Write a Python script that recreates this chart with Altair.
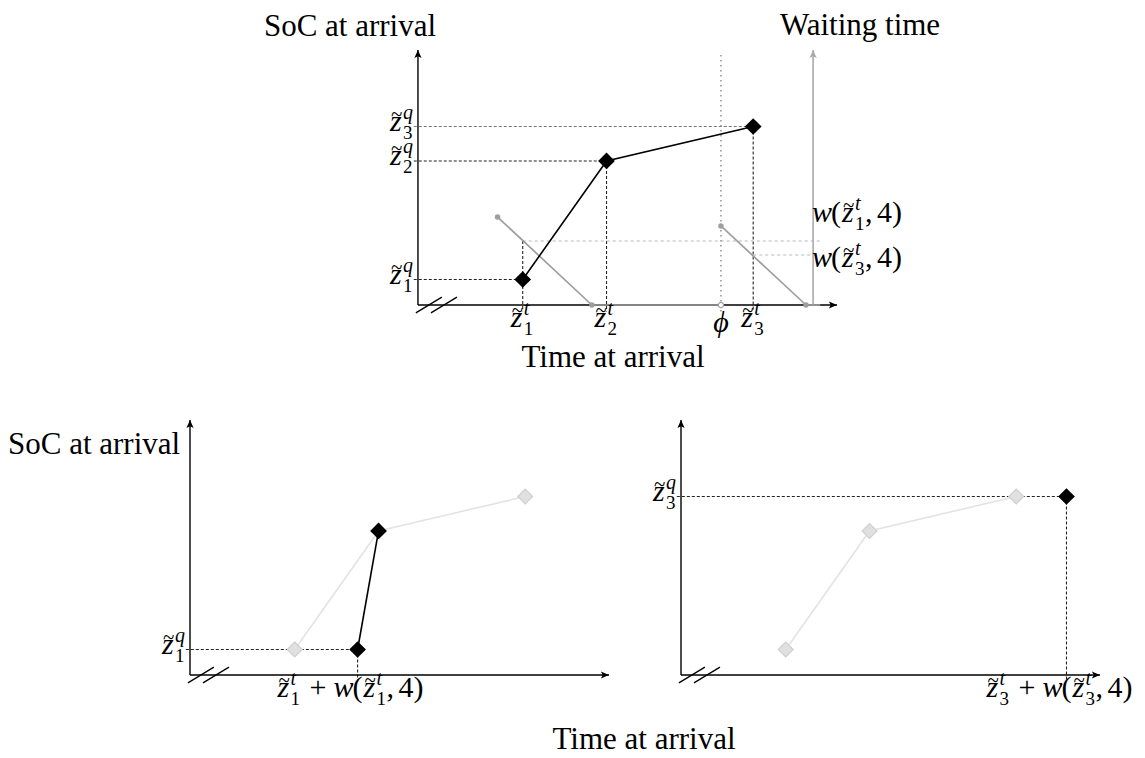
import altair as alt
import pandas as pd

FONT = "Liberation Serif"

# ------------------------------------------------------------------ data
POINT_ID = ["1", "2", "3"]
ARRIVAL_T = [25, 45, 80]          # time at arrival  z~_i^t
ARRIVAL_Q = [10, 56.5, 70]        # SoC at arrival   z~_i^q
PHI_T = 72.3                      # phi
# waiting time w(t, 4) as straight pieces (start -> end)
WAIT_T0 = [19, 41.5, 72.3, 92.6]
WAIT_V0 = [34.5, 0, 31, 0]
WAIT_T1 = [41.5, 72.3, 92.6, 96]
WAIT_V1 = [0, 0, 0, 0]
WAIT_CLOSED_T = [19, 41.5, 72.3, 92.6]
WAIT_CLOSED_V = [34.5, 0, 31, 0]
WAIT_OPEN_T = [72.3]
WAIT_OPEN_V = [0]
WAIT_AXIS_T = 94.3
WAIT_ID = ["1", "3"]
WAIT_AT = [25, 80]                # z~_1^t , z~_3^t
WAIT_LEVEL = [25.1, 19.6]         # w(z~_1^t,4) , w(z~_3^t,4)
WAIT_LEVEL_END = 95.9
WAIT_LABEL_Y = [32.5, 14.9]
SHIFTED_T = [40, 92]              # z~_i^t + w(z~_i^t, 4)
SHIFTED_Q = [10, 70]

# ------------------------------------------------------------------ scales / geometry
W, H = 419, 255
TOP_W = 647
TOP_X = alt.Scale(domain=[-54.4, 100], nice=False, zero=False)
BOT_X = alt.Scale(domain=[0, 100], nice=False, zero=False)
Y = alt.Scale(domain=[0, 100], nice=False, zero=False)
FS = 31

ARROW_UP = "M0,0 L1.2,2.7 L0,2.1 L-1.2,2.7 Z"
ARROW_RIGHT = "M0,0 L-2.7,-1.2 L-2.1,0 L-2.7,1.2 Z"


def xy(xs, x="x", y="y"):
    return {"x": alt.X(f"{x}:Q", scale=xs, axis=None),
            "y": alt.Y(f"{y}:Q", scale=Y, axis=None)}


def rule_df(x, y, x2, y2):
    return pd.DataFrame({"x": x, "y": y, "x2": x2, "y2": y2})


def rules(df, xs, color, width, dash=None):
    kw = dict(color=color, strokeWidth=width)
    if dash is not None:
        kw["strokeDash"] = dash
    return alt.Chart(df).mark_rule(**kw).encode(**xy(xs), x2="x2:Q", y2="y2:Q")


def arrow(xs, x, y, shape, color):
    return alt.Chart(pd.DataFrame({"x": [x], "y": [y]})).mark_point(
        shape=shape, filled=True, size=36, color=color, opacity=1, strokeWidth=0
    ).encode(**xy(xs))


def frame(xs):
    return [
        rules(rule_df([0, 0], [0, 0], [100, 0], [0, 100]), xs, "black", 1.4),
        rules(rule_df([-0.5, 3.1], [-3.1, -3.1], [5.7, 9.3], [3.1, 3.1]), xs, "black", 1.3),
        arrow(xs, 0, 100, ARROW_UP, "black"),
        arrow(xs, 100, 0, ARROW_RIGHT, "black"),
    ]


def text_layer(df, xs, text, dx, dy, size=30, style="normal", align="left"):
    mk = dict(dx=dx, dy=dy, fontSize=size, fontStyle=style, font=FONT,
              align=align, baseline="alphabetic", color="black")
    enc = xy(xs)
    if text.startswith("field:"):
        enc["text"] = alt.Text(text[6:] + ":N")
    else:
        mk["text"] = text
    return alt.Chart(df).mark_text(**mk).encode(**enc)


def ztilde(df, xs, dx, dy, sup):
    return [
        text_layer(df, xs, "z", dx, dy, style="italic"),
        text_layer(df, xs, "~", dx + 1, dy - 10, size=21),
        text_layer(df, xs, sup, dx + 13, dy - 12, size=20, style="italic"),
        text_layer(df, xs, "field:i", dx + 13, dy + 8, size=19),
    ]


def w_of(df, xs, L, dy):
    # w( z~_i^t , 4)
    return [text_layer(df, xs, "w", L, dy, style="italic"),
            text_layer(df, xs, "(", L + 19, dy)] + ztilde(df, xs, L + 30, dy, "t") + [
            text_layer(df, xs, ",", L + 53, dy),
            text_layer(df, xs, "4", L + 65, dy),
            text_layer(df, xs, ")", L + 80, dy)]


def free_text(text, px, py, align="center"):
    return alt.Chart(pd.DataFrame({"k": [0]})).mark_text(
        text=text, fontSize=FS, font=FONT, align=align, baseline="alphabetic", color="black"
    ).encode(x=alt.value(px), y=alt.value(py))


def diamonds(df, xs, black=True):
    if black:
        m = alt.Chart(df).mark_point(shape="diamond", filled=True, size=280,
                                     color="black", opacity=1, strokeWidth=0)
    else:
        m = alt.Chart(df).mark_point(shape="diamond", filled=True, size=220,
                                     fill="#e0e0e0", stroke="#cfcfcf", strokeWidth=1.2, opacity=1)
    return m.encode(**xy(xs))


pts = pd.DataFrame({"x": ARRIVAL_T, "y": ARRIVAL_Q, "i": POINT_ID})

# ------------------------------------------------------------------ top panel
lab_t = pd.DataFrame({"x": ARRIVAL_T, "y": [0, 0, 0], "i": POINT_ID})
lab_q = pd.DataFrame({"x": [0, 0, 0], "y": ARRIVAL_Q, "i": POINT_ID})
wait_lab = pd.DataFrame({"x": [WAIT_AXIS_T] * 2, "y": WAIT_LABEL_Y, "i": WAIT_ID})

top_layers = [
    rules(rule_df([-1, -1], ARRIVAL_Q[:2], ARRIVAL_T[:2], ARRIVAL_Q[:2]), TOP_X, "#222", 1.1, [3, 2]),
    rules(rule_df([-1], [ARRIVAL_Q[2]], [ARRIVAL_T[2]], [ARRIVAL_Q[2]]), TOP_X, "#777", 1.1, [3, 2]),
    rules(rule_df(ARRIVAL_T, [WAIT_LEVEL[0], ARRIVAL_Q[1], ARRIVAL_Q[2]], ARRIVAL_T, [-2.5] * 3),
          TOP_X, "#222", 1.1, [3, 2]),
    rules(rule_df(WAIT_AT, WAIT_LEVEL, [WAIT_LEVEL_END] * 2, WAIT_LEVEL), TOP_X, "#b8b8b8", 1.1, [3, 3]),
    rules(rule_df([PHI_T], [98], [PHI_T], [-3.5]), TOP_X, "#9a9a9a", 1.6, [1.4, 3.6]),
] + frame(TOP_X) + [
    rules(rule_df([WAIT_AXIS_T], [0], [WAIT_AXIS_T], [100]), TOP_X, "#aaaaaa", 1.6),
    arrow(TOP_X, WAIT_AXIS_T, 100, ARROW_UP, "#aaaaaa"),
    rules(rule_df(WAIT_T0, WAIT_V0, WAIT_T1, WAIT_V1), TOP_X, "#9e9e9e", 1.7),
    alt.Chart(pd.DataFrame({"x": WAIT_CLOSED_T, "y": WAIT_CLOSED_V})).mark_circle(
        size=30, color="#9e9e9e", opacity=1).encode(**xy(TOP_X)),
    alt.Chart(pd.DataFrame({"x": WAIT_OPEN_T, "y": WAIT_OPEN_V})).mark_point(
        shape="circle", filled=True, size=28, fill="white", stroke="#9e9e9e",
        strokeWidth=1.2, opacity=1).encode(**xy(TOP_X)),
    alt.Chart(pts).mark_line(color="black", strokeWidth=1.6).encode(**xy(TOP_X)),
    diamonds(pts, TOP_X),
] + ztilde(lab_t, TOP_X, -12, 22, "t") + ztilde(lab_q, TOP_X, -28, 4, "q") + [
    alt.Chart(pd.DataFrame({"x": [PHI_T], "y": [0]})).mark_text(
        text="\u03d5", fontSize=30, fontStyle="italic", font=FONT, align="center",
        baseline="alphabetic", dy=27, color="black").encode(**xy(TOP_X)),
] + w_of(wait_lab, TOP_X, -1, 0) + [
    free_text("SoC at arrival", 160, -14),
    free_text("Waiting time", 670, -15),
    free_text("Time at arrival", 423, 317),
]

top = alt.layer(*top_layers).properties(width=TOP_W, height=H)

# ------------------------------------------------------------------ bottom panels
shift = pd.DataFrame({"x": SHIFTED_T, "y": SHIFTED_Q, "i": WAIT_ID})
shift1 = shift.iloc[[0]]
shift3 = shift.iloc[[1]]
lab_q1 = pd.DataFrame({"x": [0], "y": [ARRIVAL_Q[0]], "i": ["1"]})
lab_q3 = pd.DataFrame({"x": [0], "y": [ARRIVAL_Q[2]], "i": ["3"]})


def shifted_label(df, xs):
    L = -80
    dy = 22
    lab = df.assign(y=0)
    return ztilde(lab, xs, L, dy, "t") + [text_layer(lab, xs, "+", L + 32, dy)] + w_of(lab, xs, L + 56, dy)


def gray_path(xs):
    return [alt.Chart(pts).mark_line(color="#e3e3e3", strokeWidth=1.6).encode(**xy(xs)),
            diamonds(pts, xs, black=False)]


left_black = pd.DataFrame({"x": [SHIFTED_T[0], ARRIVAL_T[1]], "y": [SHIFTED_Q[0], ARRIVAL_Q[1]]})

bl_layers = [
    rules(rule_df([-1], [SHIFTED_Q[0]], [SHIFTED_T[0]], [SHIFTED_Q[0]]), BOT_X, "#222", 1.1, [3, 2]),
    rules(rule_df([SHIFTED_T[0]], [SHIFTED_Q[0]], [SHIFTED_T[0]], [-2.5]), BOT_X, "#222", 1.1, [3, 2]),
] + frame(BOT_X) + gray_path(BOT_X) + [
    alt.Chart(left_black).mark_line(color="black", strokeWidth=1.6).encode(**xy(BOT_X)),
    diamonds(left_black, BOT_X),
] + ztilde(lab_q1, BOT_X, -28, 4, "q") + shifted_label(shift1, BOT_X) + [
    free_text("SoC at arrival", -182, 34, align="left"),
]
bl = alt.layer(*bl_layers).properties(width=W, height=H)

br_layers = [
    rules(rule_df([-1], [SHIFTED_Q[1]], [SHIFTED_T[1]], [SHIFTED_Q[1]]), BOT_X, "#222", 1.1, [3, 2]),
    rules(rule_df([SHIFTED_T[1]], [SHIFTED_Q[1]], [SHIFTED_T[1]], [-2.5]), BOT_X, "#222", 1.1, [3, 2]),
] + frame(BOT_X) + gray_path(BOT_X) + [
    diamonds(shift3, BOT_X),
] + ztilde(lab_q3, BOT_X, -28, 4, "q") + shifted_label(shift3, BOT_X) + [
    free_text("Time at arrival", -37, 329),
]
br = alt.layer(*br_layers).properties(width=W, height=H)

chart = alt.vconcat(
    top,
    alt.hconcat(bl, br, spacing=72, bounds="flush"),
    spacing=115, bounds="flush",
).properties(
    padding={"left": 0, "top": 2, "right": 0, "bottom": 0}
).configure_view(stroke=None)

chart.save("out.html", embed_options={"renderer": "svg", "actions": False})
